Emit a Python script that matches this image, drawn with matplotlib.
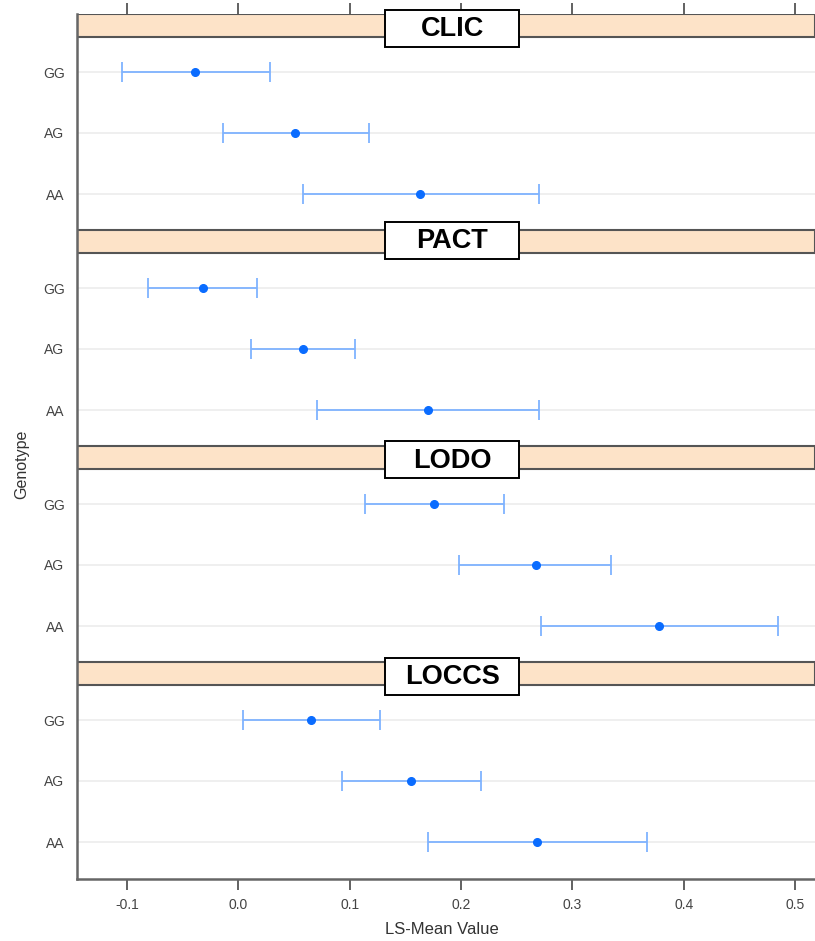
import matplotlib
matplotlib.use("Agg")
from matplotlib import pyplot as plt
from matplotlib.patches import Rectangle

# data
panels = ["CLIC", "PACT", "LODO", "LOCCS"]
genotypes = ["GG", "AG", "AA"]
means = [[-0.039, 0.051, 0.163],
         [-0.032, 0.058, 0.170],
         [0.176, 0.267, 0.378],
         [0.065, 0.155, 0.268]]
lower = [[-0.105, -0.014, 0.058],
         [-0.081, 0.011, 0.071],
         [0.114, 0.198, 0.272],
         [0.004, 0.093, 0.170]]
upper = [[0.028, 0.117, 0.270],
         [0.017, 0.105, 0.270],
         [0.239, 0.335, 0.485],
         [0.127, 0.218, 0.367]]
xticks = [-0.1, 0.0, 0.1, 0.2, 0.3, 0.4, 0.5]

plt.rcParams['font.family'] = ['Liberation Sans', 'DejaVu Sans']

W, H = 815, 941
fig = plt.figure(figsize=(W / 100, H / 100), dpi=100)
left, right, top, bottom = 77, 815, 14, 879
ax = fig.add_axes([left / W, (H - bottom) / H, (right - left) / W, (bottom - top) / H])

# layout in pixel-like units along y (0 = top of first strip)
strip_h = 23
panel_h = 216
first_row = 35
row_gap = 61
box_off = [-4, -8, -5, -4]   # label box top relative to strip top
box_h = 37
box_w = 134 / (right - left)
box_cx = (452 - left) / (right - left)

ax.set_xlim(-0.145, 0.518)
ax.set_ylim(bottom - top, 0)

ytick_pos = []
ytick_lab = []
for p, name in enumerate(panels):
    y0 = p * panel_h
    ax.axhspan(y0, y0 + strip_h, facecolor="#fde3c8", edgecolor="#555555", linewidth=1.5, zorder=1)
    trans = ax.get_yaxis_transform()
    ax.add_patch(Rectangle((box_cx - box_w / 2, y0 + box_off[p]), box_w, box_h, transform=trans,
                           facecolor="white", edgecolor="black", linewidth=1.4, zorder=5, clip_on=False))
    ax.text(box_cx, y0 + box_off[p] + box_h / 2 + 1, name, transform=trans,
            ha="center", va="center", fontsize=19.5, fontweight="bold", color="black",
            zorder=6, clip_on=False)
    for k, g in enumerate(genotypes):
        y = y0 + strip_h + first_row + k * row_gap
        ytick_pos.append(y)
        ytick_lab.append(g)
        ax.axhline(y, color="#ececec", linewidth=1.2, zorder=0)
        m = means[p][k]
        ax.errorbar([m], [y], xerr=[[m - lower[p][k]], [upper[p][k] - m]],
                    fmt="none", ecolor="#7fb3ff", elinewidth=1.3, capsize=7.5, capthick=1.3, zorder=3)
        ax.plot([m], [y], "o", color="#0a6cff", markersize=5.5, zorder=4)

ax.set_yticks(ytick_pos)
ax.set_yticklabels(ytick_lab)
ax.set_xticks(xticks)
ax.set_xticklabels(["-0.1", "0.0", "0.1", "0.2", "0.3", "0.4", "0.5"])
ax.tick_params(axis="y", length=0, pad=9, labelsize=10, labelcolor="#444444")
ax.tick_params(axis="x", which="both", direction="out", length=8, width=1.3, color="#555555",
               labelsize=10, labelcolor="#444444", top=True, labeltop=False, pad=6)

for s in ["top", "right"]:
    ax.spines[s].set_visible(False)
for s in ["left", "bottom"]:
    ax.spines[s].set_color("#666666")
    ax.spines[s].set_linewidth(1.8)

fig.text((left + right) / 2 / W - 0.005, 1 - 930 / H, "LS-Mean Value", fontsize=12, color="#333333",
         ha="center", va="center")
fig.text(22 / W, 1 - 464 / H, "Genotype", fontsize=11.5, color="#333333",
         ha="center", va="center", rotation=90)

fig.savefig("out.png", dpi=100)
